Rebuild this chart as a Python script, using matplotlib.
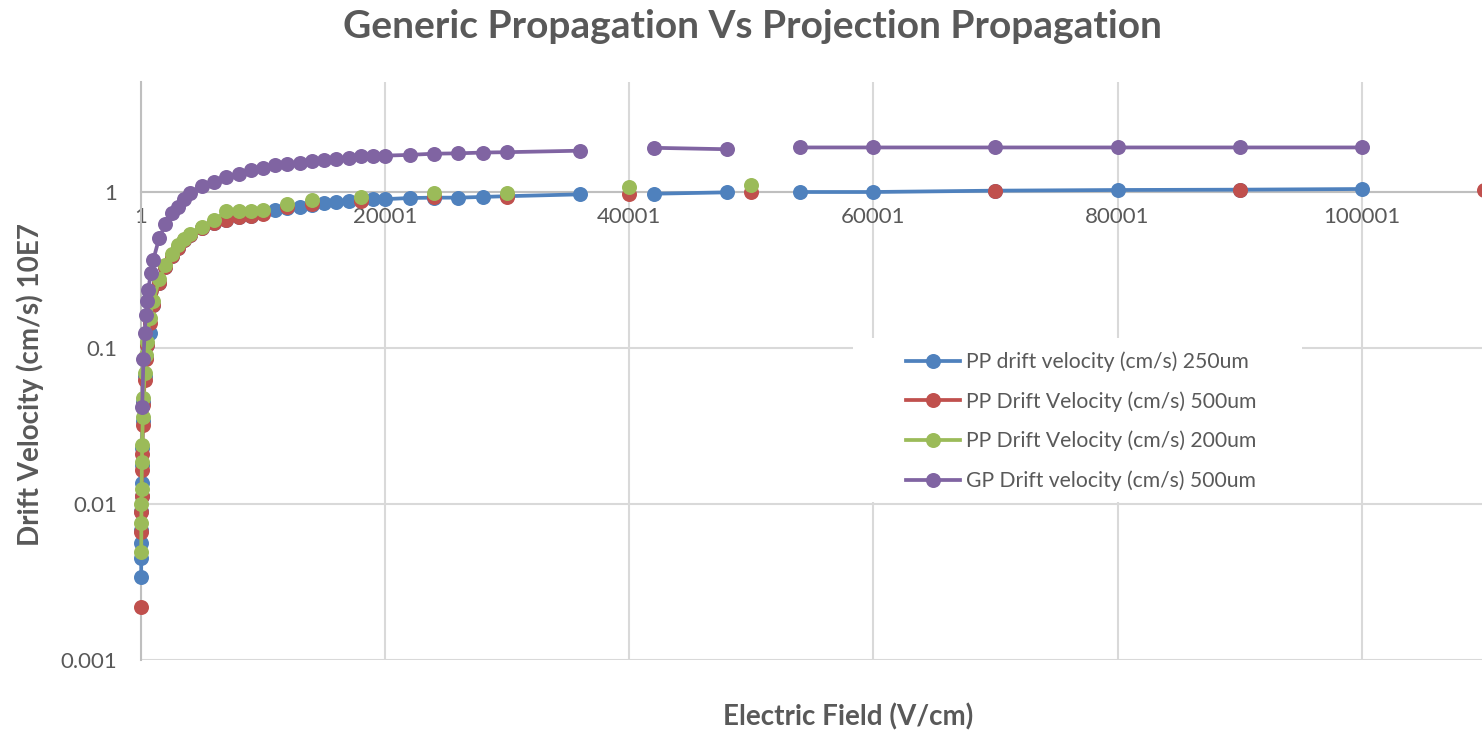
import matplotlib.pyplot as plt
from matplotlib.patches import Rectangle
import numpy as np

nan = np.nan

# Electric field (V/cm) and drift velocity (10E7 cm/s) per series.
# nan = blank cell in the sheet -> gap in the line, like Excel does it

# PP drift velocity (cm/s) 250um
blue_x = [15, 20, 25, 30, 40, 50, 60, 75, 100, 150, 200, 300, 400, 500, 700,
          1000, 1500, 2000, 2500, 3000, 3500, 4000, 5000, 6000, 7000, 8000, 9000,
          10000, 11000, 12000, 13000, 14000, 15000, 16000, 17000, 18000, 19000,
          20001, 22001, 24001, 26001, 28001, 30001, 36001, nan, 42001, 48001, nan,
          54001, 60001, 70001, 80001, 90001, 100001]
blue_y = [0.0034, 0.0045, 0.0056, 0.0068, 0.009, 0.0113, 0.0137, 0.0177, 0.023,
          0.034, 0.045, 0.066, 0.087, 0.105, 0.125,
          0.19, 0.26, 0.33, 0.39, 0.44, 0.49, 0.53, 0.59, 0.63, 0.66, 0.69, 0.70,
          0.73, 0.767, 0.79, 0.80, 0.83, 0.85, 0.863, 0.875, 0.885, 0.90,
          0.90, 0.915, 0.92, 0.92, 0.93, 0.94, 0.966, nan, 0.975, 0.995, nan,
          1.0, 1.0, 1.02, 1.03, 1.035, 1.045]

# PP Drift Velocity (cm/s) 500um
red_x = [10, nan, 30, 40, 50, 75, 100, 150, 200, 300, 400, 500, 700, 1000, 1500,
         2000, 2500, 3000, 3500, 4000, 5000, 6000, 7000, 8000, 9000, 10000,
         nan, 12000, nan, 14000, nan, 18000, nan, 24001, nan, 30001, nan, 40001,
         nan, 50001, nan, 70001, nan, 90001, nan, 110001]
red_y = [0.0022, nan, 0.0066, 0.0089, 0.0113, 0.0164, 0.021, 0.032, 0.043, 0.062,
         0.085, 0.105, 0.145, 0.19, 0.26, 0.33, 0.39, 0.44, 0.49, 0.53, 0.59,
         0.63, 0.66, 0.69, 0.70, 0.72,
         nan, 0.80, nan, 0.84, nan, 0.875, nan, 0.93, nan, 0.93, nan, 0.966,
         nan, 1.0, nan, 1.02, nan, 1.03, nan, 1.035]

# PP Drift Velocity (cm/s) 200um
green_x = [20, 30, 40, 50, 75, 100, 150, 200, 300, 400, 500, 700, 1000, 1500,
           2000, 2500, 3000, 3500, 4000, 5000, 6000, 7000, 8000, 9000, 10000,
           nan, 12000, nan, 14000, nan, 18000, nan, 24001, nan, 30001, nan,
           40001, nan, 50001]
green_y = [0.0049, 0.0076, 0.010, 0.0125, 0.0186, 0.024, 0.036, 0.048, 0.069,
           0.09, 0.11, 0.155, 0.20, 0.275, 0.34, 0.40, 0.46, 0.50, 0.54, 0.60,
           0.66, 0.755, 0.76, 0.76, 0.77,
           nan, 0.84, nan, 0.89, nan, 0.93, nan, 0.985, nan, 0.99, nan,
           1.077, nan, 1.11]

# GP Drift velocity (cm/s) 500um
purple_x = [100, 200, 300, 400, 500, 600, 800, 1000, 1500, 2000, 2500, 3000,
            3500, 4000, 5000, 6000, 7000, 8000, 9000, 10000, 11000, 12000, 13000,
            14000, 15000, 16000, 17000, 18000, 19000, 20001, 22001, 24001, 26001,
            28001, 30001, 36001, nan, 42001, 48001, nan, 54001, 60001, 70001,
            80001, 90001, 100001]
purple_y = [0.042, 0.085, 0.125, 0.163, 0.20, 0.235, 0.303, 0.366, 0.51, 0.62,
            0.73, 0.80, 0.90, 0.98, 1.10, 1.16, 1.24, 1.31, 1.38, 1.43, 1.48,
            1.51, 1.53, 1.57, 1.60, 1.62, 1.66, 1.69, 1.70, 1.71, 1.73, 1.76,
            1.77, 1.79, 1.80, 1.84, nan, 1.92, 1.88, nan, 1.93, 1.93, 1.93,
            1.93, 1.93, 1.93]

labels = ['PP drift velocity (cm/s) 250um', 'PP Drift Velocity (cm/s) 500um',
          'PP Drift Velocity (cm/s) 200um', 'GP Drift velocity (cm/s) 500um']
colors = ['#4F81BD', '#C0504D', '#9BBB59', '#8064A2']
x_ticks = [1, 20001, 40001, 60001, 80001, 100001]
y_ticks = [0.001, 0.01, 0.1, 1]

TEXT = '#595959'
GRID = '#D9D9D9'
W, H = 1482, 735


def main():
    plt.rcParams['font.family'] = ['Lato', 'DejaVu Sans']
    fig = plt.figure(figsize=(W / 100, H / 100), dpi=100)
    # plot area runs a bit past the right edge, like the cropped excel chart
    ax = fig.add_axes([141 / W, 1 - 660 / H, 1416 / W, 578 / H])

    series = [(blue_x, blue_y), (red_x, red_y), (green_x, green_y), (purple_x, purple_y)]
    for (xs, ys), c, lab in zip(series, colors, labels):
        ax.plot(xs, ys, color=c, lw=2.7, marker='o', markersize=10.8,
                markeredgewidth=0, label=lab, zorder=3, clip_on=False)

    ax.set_yscale('log')
    ax.set_ylim(0.001, 10 ** (110 / 156))
    ax.set_xlim(1, 116001)
    ax.set_xticks(x_ticks)
    ax.set_xticklabels([str(t) for t in x_ticks])
    ax.set_yticks(y_ticks)
    ax.set_yticklabels(['0.001', '0.01', '0.1', '1'])
    ax.yaxis.set_minor_locator(plt.NullLocator())

    ax.grid(True, color=GRID, lw=1.5, zorder=0)
    ax.set_axisbelow(True)
    for s in ['top', 'right']:
        ax.spines[s].set_visible(False)
    ax.spines['left'].set_color('#BFBFBF')
    ax.spines['left'].set_linewidth(1.5)
    # x axis crosses at 1
    ax.spines['bottom'].set_position(('data', 1))
    ax.spines['bottom'].set_color('#BFBFBF')
    ax.spines['bottom'].set_linewidth(1.5)

    ax.tick_params(axis='both', length=0, labelsize=16, labelcolor=TEXT)
    ax.tick_params(axis='y', pad=17)
    ax.tick_params(axis='x', pad=11)

    fig.text(752 / W, 1 - 26 / H, 'Generic Propagation Vs Projection Propagation',
             ha='center', va='center', fontsize=28, fontweight='bold', color=TEXT)
    fig.text(848 / W, 1 - 717 / H, 'Electric Field (V/cm)',
             ha='center', va='center', fontsize=20, fontweight='bold', color=TEXT)
    fig.text(30 / W, 1 - 384 / H, 'Drift Velocity (cm/s) 10E7', rotation=90,
             ha='center', va='center', fontsize=20, fontweight='bold', color=TEXT)

    # white legend box hiding the gridlines behind it
    fig.add_artist(Rectangle((853 / W, 1 - 502 / H), 449 / W, 164 / H,
                             transform=fig.transFigure, facecolor='white',
                             edgecolor='none', zorder=1))
    leg = fig.legend(loc='upper left', bbox_to_anchor=(895 / W, 1 - 341 / H),
                     fontsize=15.2, frameon=False, handlelength=2.6,
                     labelspacing=0.9, borderpad=0, handletextpad=0.25)
    leg.set_zorder(2)
    for t in leg.get_texts():
        t.set_color(TEXT)

    fig.savefig('out.png', dpi=100)


if __name__ == "__main__":
    main()
